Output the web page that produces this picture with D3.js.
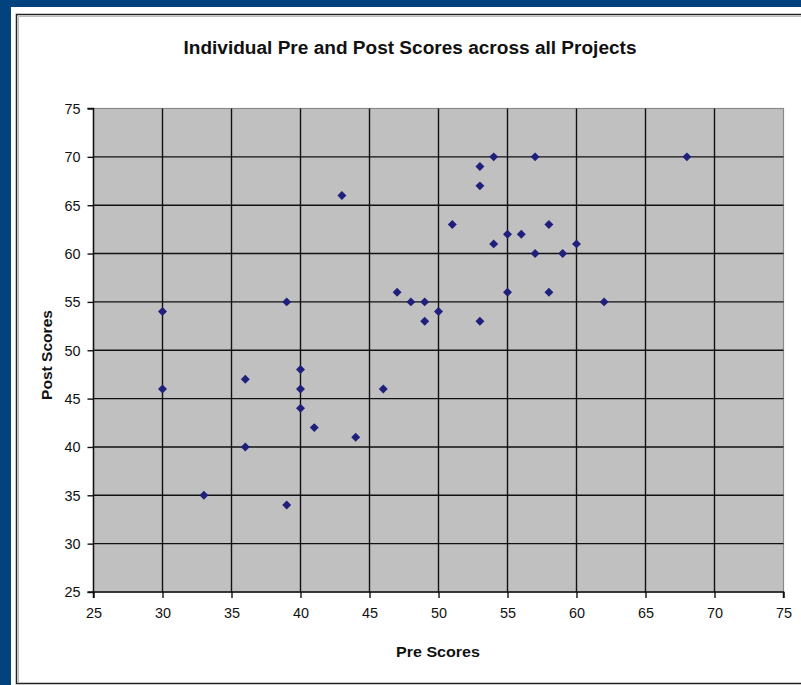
<!DOCTYPE html>
<html>
<head>
<meta charset="utf-8">
<script src="https://cdn.jsdelivr.net/npm/d3@7"></script>
<style>
  html, body { margin: 0; padding: 0; background: #02427f; }
  svg { display: block; }
  text { font-family: "Liberation Sans", Arial, sans-serif; fill: #111; }
</style>
</head>
<body>
<svg id="chart" width="801" height="685"></svg>
<script>
// ---- data ----
const preScores  = [43, 30, 39, 47, 48, 49, 49, 50, 54, 57, 68, 53, 53, 51, 58, 55, 56, 54, 60, 57, 59, 55, 58, 62, 53, 30, 36, 40, 40, 46, 40, 41, 44, 36, 33, 39];
const postScores = [66, 54, 55, 56, 55, 55, 53, 54, 70, 70, 70, 69, 67, 63, 63, 62, 62, 61, 61, 60, 60, 56, 56, 55, 53, 46, 47, 48, 46, 46, 44, 42, 41, 40, 35, 34];
const xTicks = [25, 30, 35, 40, 45, 50, 55, 60, 65, 70, 75];
const yTicks = [25, 30, 35, 40, 45, 50, 55, 60, 65, 70, 75];
const titleText = "Individual Pre and Post Scores across all Projects";
const xTitle = "Pre Scores";
const yTitle = "Post Scores";

(function () {
const points = preScores.map((p, i) => ({ pre: p, post: postScores[i] }));

const svg = d3.select("#chart");
const W = 801, H = 685;

// background frame
svg.append("rect").attr("x", 0).attr("y", 0).attr("width", W).attr("height", H).attr("fill", "#02427f");
svg.append("rect").attr("x", 11).attr("y", 7).attr("width", W - 11).attr("height", H - 7).attr("fill", "#ffffff");
svg.append("path")
  .attr("d", `M${W + 5},14.5 H16.5 V683.5 H${W + 5}`)
  .attr("fill", "none").attr("stroke", "#222").attr("stroke-width", 1.5);
svg.append("path")
  .attr("d", `M${W + 5},16.5 H18.5 V682`)
  .attr("fill", "none").attr("stroke", "#bbb").attr("stroke-width", 1);

// plot area
const pL = 93.5, pR = 783.5, pT = 108.5, pB = 592;
const x = d3.scaleLinear().domain([25, 75]).range([pL, pR]);
const y = d3.scaleLinear().domain([25, 75]).range([pB, pT]);

svg.append("rect")
  .attr("x", pL).attr("y", pT)
  .attr("width", pR - pL).attr("height", pB - pT)
  .attr("fill", "#c0c0c0").attr("stroke", "#8a8a8a").attr("stroke-width", 1.2);

// grid lines
const g = svg.append("g");
g.selectAll("line.vg").data(xTicks.filter(t => t > 25 && t < 75)).enter().append("line")
  .attr("x1", d => x(d)).attr("x2", d => x(d)).attr("y1", pT).attr("y2", pB)
  .attr("stroke", "#111").attr("stroke-width", 1.4);
g.selectAll("line.hg").data(yTicks.filter(t => t > 25 && t < 75)).enter().append("line")
  .attr("y1", d => y(d)).attr("y2", d => y(d)).attr("x1", pL).attr("x2", pR)
  .attr("stroke", "#111").attr("stroke-width", 1.4);

// axes
const xAxis = d3.axisBottom(x).tickValues(xTicks).tickSize(6).tickPadding(9).tickFormat(d3.format("d"));
const yAxis = d3.axisLeft(y).tickValues(yTicks).tickSize(6).tickPadding(7).tickFormat(d3.format("d"));

const gx = svg.append("g").attr("transform", `translate(0,${pB})`).call(xAxis);
const gy = svg.append("g").attr("transform", `translate(${pL},0)`).call(yAxis);
[gx, gy].forEach(a => {
  a.select(".domain").attr("stroke", "#111").attr("stroke-width", 1.5);
  a.selectAll(".tick line").attr("stroke", "#111").attr("stroke-width", 1.4);
  a.selectAll(".tick text")
    .style("font-family", "'Liberation Sans', Arial, sans-serif")
    .style("font-size", "15px").attr("fill", "#111")
    .attr("textLength", 16).attr("lengthAdjust", "spacingAndGlyphs");
});
gx.select(".domain").attr("d", `M${pL},6V0H${pR}V6`);
gy.select(".domain").attr("d", `M-6,${pB}H0V${pT}H-6`);

// points
const diamond = d3.symbol().type(d3.symbolSquare).size(40);
svg.append("g").selectAll("path").data(points).enter().append("path")
  .attr("d", diamond)
  .attr("transform", d => `translate(${x(d.pre)},${y(d.post)}) rotate(45)`)
  .attr("fill", "#1f1f7c");

// titles
svg.append("text")
  .attr("x", 410).attr("y", 53.5)
  .attr("text-anchor", "middle")
  .attr("textLength", 453).attr("lengthAdjust", "spacingAndGlyphs")
  .style("font-size", "17.5px").style("font-weight", "bold")
  .text(titleText);

svg.append("text")
  .attr("x", 438).attr("y", 657)
  .attr("text-anchor", "middle")
  .attr("textLength", 84).attr("lengthAdjust", "spacingAndGlyphs")
  .style("font-size", "15.5px").style("font-weight", "bold")
  .text(xTitle);

svg.append("text")
  .attr("transform", "translate(52,355) rotate(-90)")
  .attr("text-anchor", "middle")
  .attr("textLength", 90).attr("lengthAdjust", "spacingAndGlyphs")
  .style("font-size", "15.5px").style("font-weight", "bold")
  .text(yTitle);
})();
</script>
</body>
</html>
